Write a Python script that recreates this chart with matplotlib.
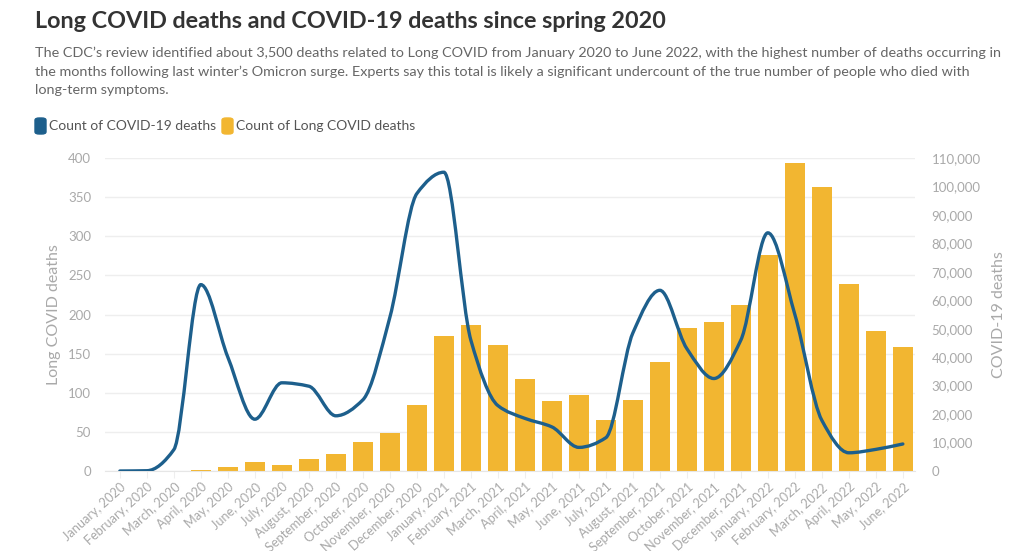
import numpy as np
import matplotlib.pyplot as plt
from matplotlib.path import Path
from matplotlib.patches import PathPatch, FancyBboxPatch

months = ['January, 2020', 'February, 2020', 'March, 2020', 'April, 2020', 'May, 2020',
          'June, 2020', 'July, 2020', 'August, 2020', 'September, 2020', 'October, 2020',
          'November, 2020', 'December, 2020', 'January, 2021', 'February, 2021',
          'March, 2021', 'April, 2021', 'May, 2021', 'June, 2021', 'July, 2021',
          'August, 2021', 'September, 2021', 'October, 2021', 'November, 2021',
          'December, 2021', 'January, 2022', 'February, 2022', 'March, 2022',
          'April, 2022', 'May, 2022', 'June, 2022']

long_covid = [0, 0, 0, 1, 5, 11, 8, 15, 22, 37, 49, 84, 172, 186, 161, 117,
              89, 97, 65, 91, 139, 183, 191, 212, 276, 393, 363, 239, 179, 159]

covid_deaths = [0, 100, 7500, 65500, 40000, 18200, 31000, 29800, 19400, 25000,
                54000, 97500, 105000, 46000, 23000, 18500, 15500, 8300, 11700,
                48500, 63500, 43000, 32500, 46000, 83700, 55000, 17800, 6400,
                7600, 9500]

left_ticks = [0, 50, 100, 150, 200, 250, 300, 350, 400]
right_ticks = list(range(0, 110001, 10000))

BAR = '#f2b631'
LINE = '#1d5f8c'
GRAY = '#a9a9a9'

plt.rcParams['font.family'] = ['Lato', 'DejaVu Sans']

fig = plt.figure(figsize=(10.24, 5.51), dpi=100)
ax = fig.add_axes([105 / 1024, 1 - 471 / 551, 810 / 1024, 313 / 551])
ax2 = ax.twinx()

x = np.arange(len(months))
ax.bar(x, long_covid, width=0.74, color=BAR, zorder=2)
ax.set_ylim(0, 400)
ax.set_xlim(-0.55, 29.45)
ax.set_yticks(left_ticks)
ax.set_xticks(x)
ax.set_xticklabels(months, rotation=42, ha='right', rotation_mode='anchor',
                   fontsize=9.2, color=GRAY)
ax.tick_params(axis='x', length=5, color='#eeeeee', pad=2)
ax.tick_params(axis='y', length=0, labelsize=9.5, labelcolor=GRAY, pad=10)
ax.grid(axis='y', color='#eeeeee', linewidth=1, zorder=0)
ax.set_axisbelow(True)
ax.set_ylabel('Long COVID deaths', fontsize=11.5, color=GRAY, labelpad=5)
for s in ax.spines.values():
    s.set_visible(False)
ax.spines['bottom'].set_visible(True)
ax.spines['bottom'].set_color('#e6e6e6')

# smooth line through the monthly points (cubic Bezier segments)
y = np.array(covid_deaths, dtype=float)
n = len(y)
d = np.zeros(n)
sl = np.diff(y)
for i in range(1, n - 1):
    if sl[i - 1] * sl[i] > 0:
        d[i] = 2 / (1 / sl[i - 1] + 1 / sl[i])
d[0], d[-1] = sl[0], sl[-1]
verts = [(x[0], y[0])]
codes = [Path.MOVETO]
for i in range(n - 1):
    verts += [(x[i] + 1 / 3, y[i] + d[i] / 3), (x[i + 1] - 1 / 3, y[i + 1] - d[i + 1] / 3),
              (x[i + 1], y[i + 1])]
    codes += [Path.CURVE4] * 3
ax2.add_patch(PathPatch(Path(verts, codes), facecolor='none', edgecolor=LINE,
                        linewidth=2.4, capstyle='round', zorder=3))
ax2.set_ylim(0, 110000)
ax2.set_yticks(right_ticks)
ax2.set_yticklabels([f'{v:,}' for v in right_ticks])
ax2.tick_params(axis='y', length=0, labelsize=9.5, labelcolor=GRAY, pad=12)
ax2.set_ylabel('COVID-19 deaths', fontsize=11.5, color=GRAY, labelpad=8)
for s in ax2.spines.values():
    s.set_visible(False)

fig.text(35 / 1024, 1 - 22 / 551, 'Long COVID deaths and COVID-19 deaths since spring 2020',
         fontsize=16.8, fontweight='bold', color='#333333', va='center')
sub = ("The CDC\u2019s review identified about 3,500 deaths related to Long COVID from January 2020 to June 2022, with the highest number of deaths occurring in\n"
       "the months following last winter\u2019s Omicron surge. Experts say this total is likely a significant undercount of the true number of people who died with\n"
       "long-term symptoms.")
fig.text(35 / 1024, 1 - 47 / 551, sub, fontsize=10.35, color='#666666', va='top',
         linespacing=1.58)

# legend
for lx, col, lab in [(35, LINE, 'Count of COVID-19 deaths'), (222, BAR, 'Count of Long COVID deaths')]:
    fig.patches.append(FancyBboxPatch((lx / 1024, 1 - 134 / 551), 11 / 1024, 16 / 551,
                                      boxstyle='round,pad=0,rounding_size=0.004',
                                      transform=fig.transFigure, color=col))
    fig.text((lx + 14) / 1024, 1 - 126 / 551, lab, fontsize=10.0, color='#555555', va='center')

fig.savefig('out.png', dpi=100)
